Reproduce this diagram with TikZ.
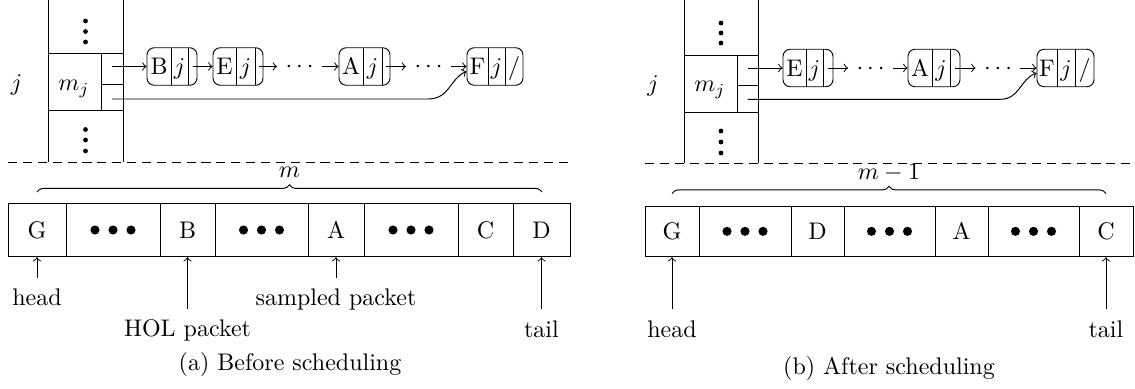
\documentclass[tikz,border=0pt]{standalone}
\usetikzlibrary{calc,decorations.pathreplacing}
\tikzset{
  lbox/.style={draw, rounded corners=3pt, inner sep=0pt, minimum height={37.5*0.41667pt}},
  ltext/.style={inner sep=0pt, text height=6.83pt, text depth=0pt},
  cellbox/.style={draw, inner sep=0pt, text height=6.83pt, text depth=0pt},
  lbl/.style={inner sep=4.5pt, anchor=base},
  plain/.style={inner sep=0pt, anchor=base},
  cdn/.style={inner sep=3.33pt, text height=5pt, text depth=0pt},
  dashline/.style={dash pattern=on 3.8pt off 2.4pt},
  bracedec/.style={decorate, decoration={brace, amplitude=3pt}},
  ptr/.style={->},
}
\newcommand\acell[6]{%
  \node[cellbox, minimum width={(#3-#2)*0.41667pt}, minimum height={(#5-#4)*0.41667pt}] (#1) at ({(#2+#3)/2},{(#4+#5)/2}) {#6};}
\newcommand\bdots[1]{%
  \foreach \dd in {-18,0,18} {\fill ($(#1.center)+(\dd,0)$) circle[radius=1.9pt];}}
\newcommand\lnode[9]{%
  \node[lbox, minimum width={(#5-#2)*0.41667pt}] (#1) at ({(#2+#5)/2},#6) {};
  \draw ({#3},{#6-18.75}) -- ({#3},{#6+18.75});
  \draw ({#4},{#6-18.75}) -- ({#4},{#6+18.75});
  \node[ltext] (#1-a) at ({(#2+#3)/2},#6) {#7};
  \node[ltext] (#1-b) at ({(#3+#4)/2},#6) {#8};
  \node[ltext] (#1-c) at ({(#4+#5)/2},#6) {#9};
  \coordinate (#1-p) at ({(#4+#5)/2},#6);}
\begin{document}
\begin{tikzpicture}[x=0.41667pt, y=-0.41667pt]
\useasboundingbox (0,0) rectangle (1135,389);

% ================= LEFT PANEL =================
% column
\draw (48,0) -- (48,162);
\draw (123,0) -- (123,162);
\draw (48,53.3) -- (123,53.3);
\draw (48,110.7) -- (123,110.7);
\draw (101,53.3) -- (101,110.7);
\draw (101,84) -- (123,84);
\foreach \yy in {21,31.5,42,129.5,140,151} {\fill (85.5,\yy) circle[radius=1pt];}
\node[plain] (Lj) at (16.5,90.8) {$j$};
\node[plain] (Lmj) at (74,90.7) {$m_j$};
\coordinate (Lmt) at (112,66.5);
\coordinate (Lmb) at (112,99);
\coordinate (Lbend) at (428,99);

% linked list
\lnode{LBn}{147}{171}{188}{197}{66.5}{B}{$j$}{}
\lnode{LEn}{213}{236}{255}{263}{66.5}{E}{$j$}{}
\lnode{LAn}{339}{363}{382}{390}{66.5}{A}{$j$}{}
\lnode{LFn}{467}{488}{505}{523}{66.5}{F}{$j$}{$/$}
\node[cdn] (Lc1) at (299.5,66.5) {$\cdots$};
\node[cdn] (Lc2) at (428.5,66.5) {$\cdots$};
\draw[ptr] (Lmt) -- (LBn);
\draw[ptr] (LBn-p) -- (LEn);
\draw[ptr] (LEn-p) -- (Lc1);
\draw[ptr] (Lc1) -- (LAn);
\draw[ptr] (LAn-p) -- (Lc2);
\draw[ptr] (Lc2) -- (LFn);
\draw[ptr] (Lmb) -- (Lbend) .. controls (450,99) and (450,78) .. (LFn.190);

\draw[dashline] (8,162) -- (570,162);

% array
\acell{LG}{8}{66}{203.3}{256.7}{G}
\acell{Ld1}{66}{160}{203.3}{256.7}{}
\acell{LB}{160}{215}{203.3}{256.7}{B}
\acell{Ld2}{215}{308}{203.3}{256.7}{}
\acell{LA}{308}{364}{203.3}{256.7}{A}
\acell{Ld3}{364}{458}{203.3}{256.7}{}
\acell{LC}{458}{513}{203.3}{256.7}{C}
\acell{LD}{513}{570}{203.3}{256.7}{D}
\bdots{Ld1}\bdots{Ld2}\bdots{Ld3}

\draw[bracedec] (37,192) -- (542,192);
\node[plain] (Lm) at (289.5,178) {$m$};

\node[lbl] (Lhd) at (37,305.7) {head};
\node[lbl] (Lhol) at (187.5,336.7) {HOL packet};
\node[lbl] (Lsmp) at (336,305.7) {sampled packet};
\node[lbl] (Ltl) at (541.5,337) {tail};
\draw[ptr] (Lhd.north) -- (Lhd.north |- LG.south);
\draw[ptr] (Lhol.north) -- (Lhol.north |- LB.south);
\draw[ptr] (Lsmp.north) -- (Lsmp.north |- LA.south);
\draw[ptr] (Ltl.north) -- (Ltl.north |- LD.south);

\node[plain] (Lcap) at (290,370.7) {(a) Before scheduling};

% ================= RIGHT PANEL =================
\draw (684,0) -- (684,163);
\draw (758,0) -- (758,163);
\draw (684,55) -- (758,55);
\draw (684,112.7) -- (758,112.7);
\draw (737.3,55) -- (737.3,112.7);
\draw (737.3,85) -- (758,85);
\foreach \yy in {23,33,43,131,142,153} {\fill (721,\yy) circle[radius=1pt];}
\node[plain] (Rj) at (653,91.7) {$j$};
\node[plain] (Rmj) at (710,91.7) {$m_j$};
\coordinate (Rmt) at (747.7,68);
\coordinate (Rmb) at (747.7,99.3);
\coordinate (Rbend) at (1000,99.3);

\lnode{REn}{783}{806}{823}{833}{68}{E}{$j$}{}
\lnode{RAn}{908}{932}{950}{960}{68}{A}{$j$}{}
\lnode{RFn}{1037}{1057}{1075}{1094}{68}{F}{$j$}{$/$}
\node[cdn] (Rc1) at (870.5,68) {$\cdots$};
\node[cdn] (Rc2) at (998,68) {$\cdots$};
\draw[ptr] (Rmt) -- (REn);
\draw[ptr] (REn-p) -- (Rc1);
\draw[ptr] (Rc1) -- (RAn);
\draw[ptr] (RAn-p) -- (Rc2);
\draw[ptr] (Rc2) -- (RFn);
\draw[ptr] (Rmb) -- (Rbend) .. controls (1020,99.3) and (1020,79) .. (RFn.190);

\draw[dashline] (645,163) -- (1135,163);

\acell{RG}{645}{699}{206}{256.7}{G}
\acell{Rd1}{699}{791}{206}{256.7}{}
\acell{RD}{791}{844}{206}{256.7}{D}
\acell{Rd2}{844}{935}{206}{256.7}{}
\acell{RA}{935}{988}{206}{256.7}{A}
\acell{Rd3}{988}{1079}{206}{256.7}{}
\acell{RC}{1079}{1133}{206}{256.7}{C}
\bdots{Rd1}\bdots{Rd2}\bdots{Rd3}

\draw[bracedec] (672,193.5) -- (1106,193.5);
\node[plain] (Rm) at (889,179.3) {$m-1$};

\node[lbl] (Rhd) at (672,337.3) {head};
\node[lbl] (Rtl) at (1106,337.3) {tail};
\draw[ptr] (Rhd.north) -- (Rhd.north |- RG.south);
\draw[ptr] (Rtl.north) -- (Rtl.north |- RC.south);

\node[plain] (Rcap) at (889,374.3) {(b) After scheduling};
\end{tikzpicture}
\end{document}
